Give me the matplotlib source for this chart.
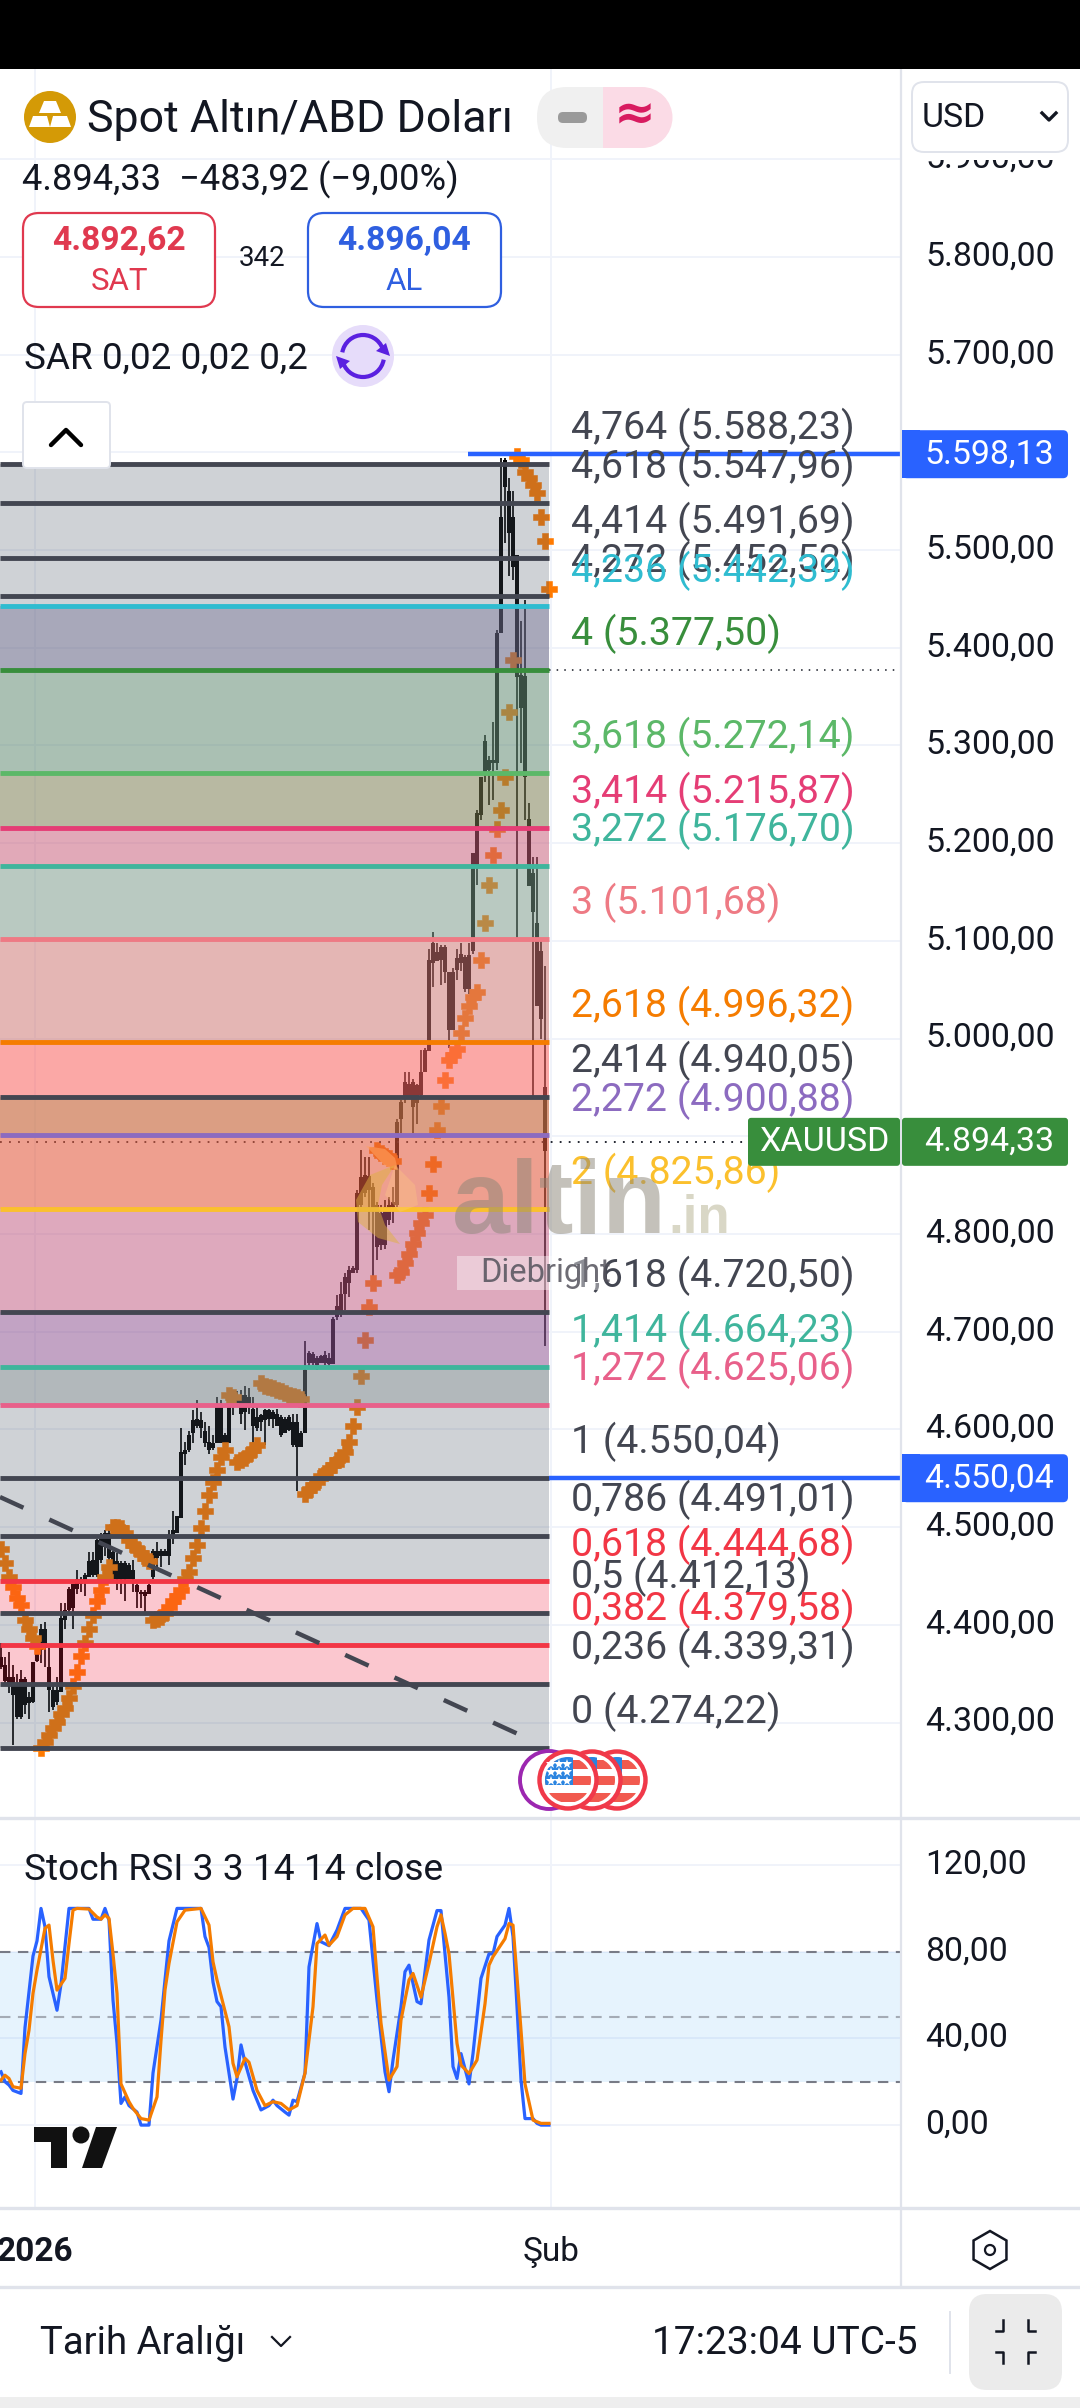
import matplotlib
matplotlib.use("Agg")
import matplotlib.pyplot as plt
import numpy as np
from matplotlib import patches
from matplotlib.transforms import ScaledTranslation

plt.rcParams["font.family"] = ["Roboto", "DejaVu Sans"]

# fibonacci levels, top to bottom
fib_levels = ["4,764", "4,618", "4,414", "4,272", "4,236", "4", "3,618", "3,414", "3,272", "3", "2,618", "2,414",
              "2,272", "2", "1,618", "1,414", "1,272", "1", "0,786", "0,618", "0,5", "0,382", "0,236", "0"]
fib_prices = [5588.23, 5547.96, 5491.69, 5452.52, 5442.39, 5377.50, 5272.14, 5215.87, 5176.70, 5101.68, 4996.32,
              4940.05, 4900.88, 4825.86, 4720.50, 4664.23, 4625.06, 4550.04, 4491.01, 4444.68, 4412.13, 4379.58,
              4339.31, 4274.22]

highs = [4381, 4367, 4372, 4359, 4350, 4354, 4347, 4331, 4362, 4384, 4401, 4403, 4376, 4337, 4347, 4422, 4422, 4439,
         4442, 4456, 4449, 4453, 4475, 4475, 4488, 4494, 4497, 4500, 4476, 4473, 4465, 4465, 4463, 4466, 4442, 4436,
         4436, 4442, 4478, 4485, 4478, 4478, 4497, 4517, 4511, 4601, 4587, 4598, 4620, 4630, 4618, 4608, 4603, 4594,
         4633, 4630, 4596, 4623, 4639, 4639, 4640, 4644, 4642, 4633, 4623, 4616, 4621, 4621, 4620, 4621, 4615, 4613,
         4615, 4616, 4616, 4598, 4690, 4680, 4679, 4675, 4676, 4680, 4678, 4715, 4738, 4751, 4760, 4767, 4767, 4845,
         4886, 4879, 4879, 4852, 4833, 4830, 4835, 4838, 4848, 4918, 4937, 4966, 4966, 4959, 4954, 4988, 4990, 5092,
         5109, 5098, 5096, 5096, 5068, 5072, 5092, 5098, 5086, 5098, 5190, 5234, 5268, 5311, 5289, 5324, 5418, 5594,
         5594, 5574, 5560, 5495, 5427, 5449, 5241, 5186, 5186, 5100, 5074]
lows = [4355, 4340, 4330, 4277, 4304, 4304, 4309, 4304, 4320, 4362, 4361, 4357, 4311, 4313, 4318, 4331, 4396, 4413,
        4396, 4432, 4434, 4429, 4449, 4449, 4449, 4463, 4470, 4449, 4447, 4436, 4432, 4424, 4447, 4434, 4417, 4417,
        4412, 4432, 4447, 4459, 4459, 4470, 4461, 4483, 4494, 4509, 4564, 4577, 4586, 4601, 4591, 4582, 4575, 4579,
        4586, 4586, 4570, 4586, 4615, 4627, 4606, 4599, 4616, 4584, 4598, 4598, 4584, 4604, 4601, 4603, 4592, 4596,
        4598, 4582, 4537, 4582, 4596, 4664, 4666, 4661, 4668, 4666, 4664, 4667, 4712, 4715, 4722, 4736, 4760, 4760,
        4828, 4838, 4804, 4756, 4773, 4784, 4785, 4809, 4811, 4828, 4903, 4934, 4941, 4903, 4913, 4941, 4966, 4987,
        5053, 5079, 5055, 5057, 4990, 5009, 5060, 5069, 5048, 5046, 5087, 5157, 5224, 5263, 5239, 5244, 5275, 5415,
        5507, 5473, 5469, 5103, 5282, 5224, 5156, 4941, 5033, 5000, 4685]
opens = [4367, 4359, 4347, 4347, 4337, 4345, 4345, 4326, 4362, 4379, 4396, 4396, 4357, 4333, 4333, 4407, 4415, 4437,
         4442, 4447, 4447, 4451, 4465, 4466, 4487, 4492, 4494, 4494, 4475, 4465, 4463, 4463, 4461, 4456, 4441, 4434,
         4434, 4441, 4476, 4476, 4476, 4476, 4488, 4497, 4511, 4577, 4579, 4594, 4610, 4611, 4610, 4598, 4587, 4586,
         4623, 4623, 4594, 4623, 4635, 4635, 4635, 4635, 4633, 4621, 4613, 4615, 4620, 4620, 4618, 4616, 4613, 4611,
         4613, 4608, 4608, 4596, 4661, 4678, 4677, 4673, 4675, 4676, 4673, 4713, 4726, 4739, 4756, 4763, 4765, 4842,
         4858, 4860, 4859, 4848, 4830, 4821, 4828, 4830, 4833, 4915, 4935, 4956, 4954, 4956, 4952, 4966, 4988, 5080,
         5098, 5089, 5094, 5094, 5068, 5068, 5082, 5087, 5084, 5086, 5190, 5231, 5268, 5305, 5285, 5285, 5415, 5534,
         5592, 5560, 5534, 5495, 5372, 5371, 5225, 5170, 5118, 5090, 4950]
closes = [4357, 4342, 4340, 4328, 4306, 4306, 4318, 4320, 4321, 4363, 4374, 4376, 4333, 4316, 4321, 4331, 4405, 4415,
          4417, 4437, 4442, 4446, 4449, 4451, 4451, 4466, 4480, 4468, 4447, 4447, 4447, 4447, 4447, 4447, 4434, 4432,
          4430, 4432, 4449, 4468, 4470, 4470, 4470, 4492, 4494, 4509, 4575, 4579, 4596, 4603, 4601, 4586, 4579, 4581,
          4586, 4586, 4586, 4586, 4623, 4627, 4616, 4618, 4623, 4603, 4601, 4608, 4610, 4611, 4611, 4603, 4594, 4596,
          4599, 4584, 4582, 4582, 4596, 4668, 4668, 4666, 4668, 4668, 4667, 4667, 4715, 4719, 4739, 4750, 4760, 4763,
          4830, 4842, 4845, 4826, 4787, 4789, 4789, 4814, 4828, 4830, 4918, 4941, 4941, 4930, 4934, 4942, 4966, 4987,
          5077, 5079, 5080, 5068, 5009, 5009, 5070, 5077, 5051, 5051, 5090, 5178, 5229, 5270, 5275, 5282, 5282, 5415,
          5565, 5517, 5483, 5370, 5338, 5268, 5156, 5130, 5033, 5020, 4885]

sar = [4478, 4463, 4449, 4439, 4427, 4420, 4405, 4396, 4386, 4378,
       4274, 4280, 4287, 4294, 4301, 4309, 4315, 4325, 4337, 4352, 4368, 4381, 4396, 4410, 4424, 4436, 4449, 4459,
       4500, 4500, 4499, 4494, 4487, 4482, 4478, 4473, 4468, 4465,
       4405, 4406, 4408, 4412, 4418, 4424, 4429, 4436, 4447, 4454, 4468, 4482, 4499, 4517, 4533, 4546, 4558, 4572, 4579,
       4635, 4633,
       4567, 4569, 4571, 4575, 4579, 4584,
       4647, 4644, 4643, 4642, 4640, 4639, 4637, 4635, 4634, 4633, 4631,
       4534, 4538, 4543, 4546, 4552, 4555, 4558, 4564, 4569, 4570, 4577, 4587, 4604, 4623, 4655, 4692, 4725,
       4750,
       4886, 4883, 4880, 4878, 4875,
       4758, 4761, 4770, 4780, 4790, 4801, 4811, 4819, 4842, 4872, 4906, 4931, 4958, 4978, 4983, 4989, 5006, 5021, 5033,
       5043, 5048, 5080, 5118,
       5157, 5188, 5215, 5234, 5268, 5334, 5388,
       5596, 5592, 5580, 5574, 5567, 5558, 5534, 5509, 5460]

# stoch rsi turning points, read bar by bar
k_bars = [0, 1, 2, 3, 5, 6, 8, 9, 10, 11, 12, 14, 15, 17, 22, 23, 25, 26, 27, 28, 29, 30, 31, 32, 34, 35, 37, 38, 40,
          41, 42, 44, 50, 51, 52, 53, 54, 55, 56, 58, 59, 60, 61, 63, 65, 67, 68, 69, 71, 72, 73, 74, 76, 77, 79, 80,
          82, 84, 86, 90, 92, 94, 96, 97, 98, 100, 101, 102, 104, 105, 107, 109, 110, 112, 113, 114, 115, 117, 118,
          120, 122, 123, 124, 126, 127, 128, 129, 130, 131, 133, 134, 135, 137]
k_values = [24.6, 20, 18.5, 16, 14.6, 45, 78, 85, 100, 91.5, 68.5, 53, 65, 100, 100, 95, 95, 100, 94.6, 57.7, 37.7, 10,
            13, 9, 6, 0, 0, 24, 48.5, 67, 85, 100, 100, 87, 82, 66, 57, 54.6, 36, 12, 21.5, 37, 29, 16, 7, 9, 11.5, 9,
            6, 4.6, 11.5, 10.8, 24, 73, 93, 84.6, 82.8, 90, 100, 100, 94.6, 57.7, 24.6, 15.4, 30, 54.6, 70.8, 73.8, 57,
            56, 85.4, 99, 99, 59, 27, 21.5, 33, 19, 33, 67.7, 79, 79, 87, 92.3, 100, 87, 54.6, 20.8, 3, 3, 0.8, 0, 0]
d_bars = [0, 1, 2, 3, 5, 6, 7, 8, 9, 11, 12, 13, 14, 16, 17, 18, 19, 22, 24, 25, 26, 27, 28, 29, 30, 32, 33, 35, 37,
          39, 40, 41, 42, 44, 46, 50, 52, 53, 54, 57, 58, 59, 61, 62, 64, 66, 68, 70, 72, 74, 76, 78, 79, 81, 82, 84,
          86, 88, 91, 93, 94, 95, 97, 99, 100, 102, 103, 105, 107, 109, 110, 111, 112, 114, 115, 117, 119, 121, 122,
          123, 126, 127, 128, 129, 131, 133, 135, 137]
d_values = [20.8, 23, 21.5, 17.7, 17, 33, 43.8, 60.8, 71.5, 90.8, 92.3, 76, 62.3, 67.7, 83.8, 99.2, 100, 99.7, 96, 95,
            97, 95.4, 79, 60.8, 19, 10.8, 7.7, 3, 2.3, 13, 39, 62.3, 74.6, 93.8, 99.2, 100, 92.3, 75.4, 67, 45.4, 28.5,
            22.3, 30.8, 29, 16, 9, 10.8, 10, 7, 9, 24, 54.6, 83.8, 87.7, 83, 87, 97, 100, 100, 91.5, 68.5, 47, 20.8,
            27, 48.5, 67, 70, 59, 74.6, 91.5, 97, 88.5, 79, 37.7, 27.7, 23.8, 30, 56, 73.8, 77.7, 86, 93, 92.3, 68.5,
            19, 2.3, 0.8, 0.8]

price_ticks = list(range(4300, 6000, 100))
hidden_ticks = [4900, 5600]  # sit under the price tags
stoch_ticks = [0, 40, 80, 120]
time_ticks = [8.5, 137.5]
time_labels = ["2026", "Şub"]

trend_prices = [4530.8, 4285]
last_price = 4894.33
top_price = 5598.13
base_price = 4550.04

# look of the bands between levels, top to bottom: colour on white, colour on a black candle
GREY = ("#cfd2d6", "#14161a")
ROSE = ("#fcc8d0", "#3a0d15")
BANDS = [GREY, GREY, GREY, GREY, ("#a9a9ba", "#3c3e50"), ("#aac0b3", "#3a4d44"), ("#b8b9a2", "#3f4030"),
         ("#e2a9b8", "#6b3040"), ("#b9c9c1", "#3f4f48"), ("#e5b6b4", "#6b4040"), ("#fba8a6", "#7d4040"),
         ("#db9f83", "#7d5540"), ("#eea08f", "#6a3a3a"), ("#dfa9bd", "#4f3050"), ("#c2a3c4", "#4a2a58"),
         ("#b2b8bc", "#3a4044"), GREY, GREY, GREY, ROSE, GREY, ROSE, GREY]
DARK = "#434651"
LEVEL_COLORS = [DARK, DARK, DARK, DARK, "#2fbcd0", "#388e3c", "#5cb868", "#e53d75", "#3fb59c", "#ee7a84", "#f57c00",
                DARK, "#8c6bc0", "#fbc02d", DARK, "#3fb59c", "#e8608a", DARK, DARK, "#f23645", DARK, "#f23645", DARK,
                DARK]
TEXT = "#131722"
BLUE = "#2962ff"
GREEN = "#388e3c"
LINE = "#e0e3eb"
GRID = "#f0f3fa"


def band_rgba(on_white, on_black):
    w = np.array(matplotlib.colors.to_rgb(on_white))
    b = np.array(matplotlib.colors.to_rgb(on_black))
    alpha = 1 - np.mean(w - b)
    # keep the colour on white exact, the one on black follows from it
    return (*np.clip((w - (1 - alpha)) / alpha, 0, 1), alpha)


def tr(v):
    return f"{v:,.2f}".replace(",", "X").replace(".", ",").replace("X", ".")


fig = plt.figure(figsize=(10.8, 24.08), dpi=100)
raise_labels = ScaledTranslation(0, 4 / 100, fig.dpi_scale_trans)

# price pane
ax = fig.add_axes([0, (2408 - 1817) / 2408, 900 / 1080, 1748 / 2408])
ax.set_xlim(-0.25, 224.75)
ax.set_ylim(4203.3, 5992.4)
for s in ax.spines.values():
    s.set_visible(False)
ax.set_axisbelow(True)
ax.grid(color=GRID, lw=1.4)
ax.yaxis.tick_right()
ax.set_yticks(price_ticks)
ax.set_yticklabels(["" if p in hidden_ticks else tr(p) for p in price_ticks], fontsize=24.4, color=TEXT)
ax.set_xticks(time_ticks)
ax.tick_params(length=0, labelbottom=False)
ax.tick_params(axis="y", pad=18)
for t in ax.get_yticklabels():
    t.set_transform(t.get_transform() + raise_labels)

bars = np.arange(len(highs))
ax.vlines(bars, lows, highs, color="black", lw=1.25, zorder=1)
body_low = np.minimum(opens, closes)
body_high = np.maximum(opens, closes)
ax.bar(bars, np.maximum(body_high - body_low, 2), bottom=body_low, width=0.85, color="black", zorder=1)
ax.scatter(np.arange(len(sar)), sar, marker="P", s=125, color="#ff7a00", edgecolors="#ff7a00", linewidths=0.4,
           zorder=1.2)
ax.hlines(last_price, -0.25, 224.75, color=TEXT, lw=1.3, linestyles=(0, (1, 4)), zorder=1.3)

for i, band in enumerate(BANDS):
    ax.fill_between([-0.25, 137], fib_prices[i + 1], fib_prices[i], color=band_rgba(*band), lw=0, zorder=2)
for level, price, color in zip(fib_levels, fib_prices, LEVEL_COLORS):
    ax.hlines(price, -0.25, 137, color=color, lw=3.5, zorder=3)
    ax.annotate(f"{level} ({tr(price)})", (142.6, price), xytext=(0, 36), textcoords="offset pixels", va="center",
                ha="left", fontsize=28.3, color=color, zorder=5)

ax.hlines(fib_prices[5], 137, 224.75, color=TEXT, lw=1.1, linestyles=(0, (1, 4)), zorder=1.3)
ax.plot([-0.25, 131], trend_prices, color=DARK, lw=3.2, linestyle=(0, (5.8, 6.4)), dash_capstyle="butt", zorder=4)
ax.hlines(top_price, 116.75, 224.75, color=BLUE, lw=3.2, zorder=4)
ax.hlines(base_price, 137, 224.75, color=BLUE, lw=3.2, zorder=4)

# stoch pane
st = fig.add_axes([0, (2408 - 2207) / 2408, 900 / 1080, 387 / 2408])
st.set_xlim(-0.25, 224.75)
st.set_ylim(-37.8, 140.8)
for s in st.spines.values():
    s.set_visible(False)
st.set_axisbelow(True)
st.grid(color=GRID, lw=1.4)
st.yaxis.tick_right()
st.set_yticks(stoch_ticks)
st.set_yticklabels([tr(p) for p in stoch_ticks], fontsize=24.4, color=TEXT)
st.set_xticks(time_ticks)
st.set_xticklabels(time_labels, fontsize=24, color=TEXT)
st.get_xticklabels()[0].set_fontweight("bold")
st.tick_params(length=0)
st.tick_params(axis="y", pad=18)
st.tick_params(axis="x", pad=21)
for t in st.get_yticklabels():
    t.set_transform(t.get_transform() + raise_labels)
st.axhspan(20, 80, color="#2196f3", alpha=0.11, lw=0, zorder=1)
for v, a in [(80, 1), (50, 0.6), (20, 1)]:
    st.axhline(v, color="#787b86", lw=1.5, alpha=a, linestyle=(0, (5, 3.6)), zorder=2)
st.plot(k_bars, k_values, color=BLUE, lw=2.3, zorder=3)
st.plot(d_bars, d_values, color="#f57c00", lw=2.3, zorder=4)

# everything around the panes, in screen pixels
ui = fig.add_axes([0, 0, 1, 1], zorder=10)
ui.set_xlim(0, 1080)
ui.set_ylim(2408, 0)
ui.axis("off")
ui.patch.set_alpha(0)


def box(x0, y0, x1, y1, r=0, fc="white", ec="none", lw=0, z=1, alpha=None):
    p = patches.FancyBboxPatch((x0 + r, y0 + r), x1 - x0 - 2 * r, y1 - y0 - 2 * r,
                               boxstyle=f"round,pad={r},rounding_size={r}" if r else "square,pad=0",
                               fc=fc, ec=ec, lw=lw, zorder=z, alpha=alpha)
    ui.add_patch(p)
    return p


def label(x, y, s, size, color=TEXT, ha="left", z=6, **kw):
    ui.text(x, y, s, fontsize=size, color=color, ha=ha, va="center", zorder=z, **kw)


def price_y(price):
    return 2408 - ax.transData.transform((0, price))[1]


# watermark
ui.add_patch(patches.Polygon([(366, 1146), (385, 1149), (395, 1158), (398, 1170), (385, 1166)], fc="#ffa060", alpha=0.6,
                             lw=0, zorder=2))
ui.add_patch(patches.Polygon([(395, 1165), (370, 1175), (356, 1200), (358, 1222), (378, 1238), (400, 1244), (385, 1225),
                              (378, 1205), (382, 1185)], fc="#e0b040", alpha=0.5, lw=0, zorder=2))
ui.add_patch(patches.Polygon([(395, 1165), (415, 1185), (418, 1205), (400, 1212), (385, 1195)], fc="#ffd080", alpha=0.3,
                             lw=0, zorder=2))
ui.text(452, 1233, "altin", fontsize=75, fontweight="bold", color="#8a8577", alpha=0.5, family="Liberation Sans",
        va="baseline", zorder=2)
ui.text(668, 1233, ".in", fontsize=38, fontweight="bold", color="#b5b08f", alpha=0.5, family="Liberation Sans",
        va="baseline", zorder=2)
box(457, 1256, 602, 1290, fc="white", alpha=0.4, z=2)
label(480, 1273, "Diebright", 23.5, color="#54525c", alpha=0.85, z=7)

# event flags
ui.add_patch(patches.Circle((549, 1780), 29, fc="white", ec="#9c27b0", lw=2.8, zorder=3))
for n, cx in enumerate([617, 592, 568]):
    z = 3 + n
    ui.add_patch(patches.Circle((cx, 1780), 28.5, fc="white", ec="#f0394a", lw=3.2, zorder=z))
    clip = patches.Circle((cx, 1780), 23, transform=ui.transData)
    for y0 in [1760, 1776, 1793]:
        r = patches.Rectangle((cx - 26, y0), 52, 9, fc="#f15a4f", lw=0, zorder=z + 0.1)
        ui.add_patch(r)
        r.set_clip_path(clip)
    r = patches.Rectangle((cx - 26, 1754), 31, 31, fc="#2a84e0", lw=0, zorder=z + 0.2)
    ui.add_patch(r)
    r.set_clip_path(clip)
for sx in [551, 559, 567]:
    for sy in [1764, 1772, 1781]:
        ui.plot(sx, sy, marker="*", ms=7, color="white", mew=0, zorder=5.5)

# header
box(0, 0, 1080, 69, fc="black", z=20)
box(902, 69, 1080, 160, z=1)
box(0, 2397, 1080, 2408, fc="#eeeeee", z=1)
ui.add_patch(patches.Circle((50, 117), 26, fc="#d49a06", lw=0))
for pts in [[(44, 101), (56, 101), (61, 113), (39, 113)], [(33, 116), (47, 116), (50, 127), (29, 127)],
            [(53, 116), (67, 116), (71, 127), (50, 127)]]:
    ui.add_patch(patches.Polygon(pts, fc="white", lw=0, zorder=2))
label(87, 120, "Spot Altın/ABD Doları", 32.2)
label(22, 180, "4.894,33  −483,92 (−9,00%)", 26.1)
box(23, 213, 215, 307, r=16, ec="#e0394f", lw=1.6)
box(308, 213, 501, 307, r=16, ec="#2f5fe0", lw=1.6)
label(119, 241, "4.892,62", 24.2, color="#e0394f", ha="center", fontweight="bold")
label(119, 282, "SAT", 22.5, color="#e0394f", ha="center")
label(404, 241, "4.896,04", 24.2, color="#2f5fe0", ha="center", fontweight="bold")
label(404, 282, "AL", 22.5, color="#2f5fe0", ha="center")
label(262, 259, "342", 20, ha="center")
label(24, 359, "SAR 0,02 0,02 0,2", 26.6)
ui.add_patch(patches.Circle((363, 356), 31, fc="#e6dcfa", lw=0))
for t1, t2 in [(190, 350), (10, 170)]:
    ui.add_patch(patches.Arc((363, 356), 42, 42, theta1=t1, theta2=t2, ec="#5a20e0", lw=3, zorder=3))
ui.add_patch(patches.Polygon([(386, 343), (376, 351), (390, 356)], fc="#5a20e0", lw=0, zorder=3))
ui.add_patch(patches.Polygon([(340, 369), (350, 361), (336, 356)], fc="#5a20e0", lw=0, zorder=3))
box(23, 402, 110, 468, r=4, ec=LINE, lw=1.4)
ui.plot([51, 66, 81], [445, 430, 445], color="black", lw=3.2, solid_capstyle="round", zorder=3)

# pills
box(537, 87, 672, 148, r=30, fc="#f0f0f0")
box(603, 87, 643, 148, fc="#fbdbe6", z=1.2)
box(640, 87, 673, 148, fc="white", z=1.15)
ui.add_patch(patches.Wedge((642, 117.5), 30.5, -90, 90, fc="#fbdbe6", lw=0, zorder=1.2))
box(558, 112, 587, 123, r=5, fc="#9a9a9a", z=2)
label(635, 115, "≈", 36, color="#d81b60", ha="center", family="DejaVu Sans", fontweight="bold")

# currency button
box(912, 82, 1068, 152, r=12, ec=LINE, lw=1.4)
label(922, 118, "USD", 24.4)
ui.plot([1042, 1049, 1056], [113, 120, 113], color=TEXT, lw=2.4, zorder=3)

# price tags
y = price_y(top_price)
box(902, y - 24, 1068, y + 24, r=5, fc=BLUE, z=5)
box(902, y - 24, 920, y + 24, fc=BLUE, z=5)
label(989, y, tr(top_price), 24.4, color="white", ha="center")
y = price_y(base_price)
box(902, y - 24, 1068, y + 24, r=5, fc=BLUE, z=5)
box(902, y - 24, 920, y + 24, fc=BLUE, z=5)
label(989, y, tr(base_price), 24.4, color="white", ha="center")
y = price_y(last_price)
box(748, y - 24, 900, y + 24, r=3, fc=GREEN, z=5)
box(902, y - 24, 1068, y + 24, r=3, fc=GREEN, z=5)
label(824, y, "XAUUSD", 24.5, color="white", ha="center")
label(989, y, tr(last_price), 24.4, color="white", ha="center")

# dividers
ui.plot([901, 901], [69, 2287], color=LINE, lw=1.6, zorder=4)
ui.plot([0, 1080], [1818, 1818], color=LINE, lw=2.4, zorder=4)
ui.plot([0, 1080], [2208, 2208], color=LINE, lw=2.4, zorder=4)
ui.plot([0, 1080], [2287, 2287], color=LINE, lw=2.4, zorder=4)

# stoch title and logo
label(24, 1870, "Stoch RSI 3 3 14 14 close", 26.7)
ui.add_patch(patches.Polygon([(34, 2127), (67, 2127), (67, 2168), (51, 2168), (51, 2142), (34, 2142)], fc="#111111", lw=0))
ui.add_patch(patches.Circle((81, 2135), 8.5, fc="#111111", lw=0))
ui.add_patch(patches.Polygon([(96, 2127), (117, 2127), (102, 2168), (82, 2168)], fc="#111111", lw=0))

# settings hexagon, bottom bar
ui.add_patch(patches.RegularPolygon((990, 2250), 6, radius=19, fc="white", ec="#131722", lw=1.8, zorder=3))
ui.add_patch(patches.Circle((990, 2250), 5, fc="white", ec="#131722", lw=1.6, zorder=4))
label(40, 2344, "Tarih Aralığı", 27.6)
ui.plot([272, 281, 290], [2337, 2346, 2337], color=TEXT, lw=1.6, zorder=3)
label(918, 2344, "17:23:04 UTC-5", 28, ha="right")
ui.plot([950, 950], [2312, 2373], color=LINE, lw=1.4, zorder=3)
box(969, 2294, 1062, 2390, r=18, fc="#ebebeb")
for xs, ys in [([996, 1003, 1003], [2331, 2331, 2320]), ([1035, 1028, 1028], [2331, 2331, 2320]),
               ([996, 1003, 1003], [2352, 2352, 2363]), ([1035, 1028, 1028], [2352, 2352, 2363])]:
    ui.plot(xs, ys, color="#131722", lw=1.8, zorder=3)

fig.savefig("out.png", dpi=100)
